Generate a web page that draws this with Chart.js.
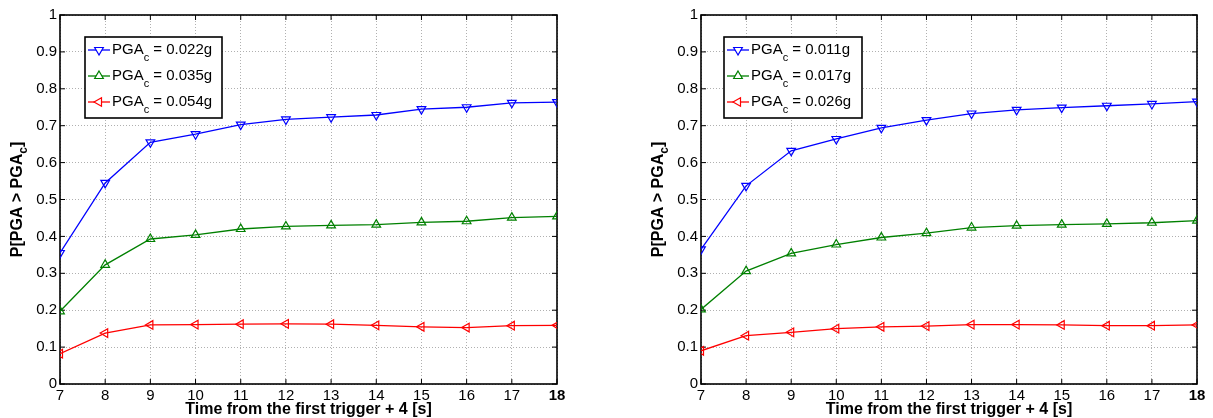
<!DOCTYPE html>
<html>
<head>
<meta charset="utf-8">
<script src="https://cdn.jsdelivr.net/npm/chart.js@4/dist/chart.umd.min.js"></script>
<style>
body { margin: 0; background: #fff; width: 1213px; height: 418px; overflow: hidden; position: relative; }
.panel { position: absolute; top: 0; height: 418px; }
</style>
</head>
<body>
<div class="panel" style="left:0;width:606px"><canvas id="leftChart"></canvas></div>
<div class="panel" style="left:606px;width:607px"><canvas id="rightChart"></canvas></div>
<script>
// x values (time) and y tick labels
const times = [7, 8, 9, 10, 11, 12, 13, 14, 15, 16, 17, 18];
const yTicks = [0, 0.1, 0.2, 0.3, 0.4, 0.5, 0.6, 0.7, 0.8, 0.9, 1];

// left panel
const leftNames = ["0.022g", "0.035g", "0.054g"];
const leftBlue  = [0.355, 0.545, 0.655, 0.677, 0.703, 0.717, 0.723, 0.729, 0.745, 0.750, 0.762, 0.764];
const leftGreen = [0.197, 0.323, 0.393, 0.404, 0.420, 0.427, 0.430, 0.432, 0.438, 0.441, 0.451, 0.454];
const leftRed   = [0.082, 0.138, 0.160, 0.161, 0.162, 0.163, 0.162, 0.159, 0.155, 0.153, 0.158, 0.159];

// right panel
const rightNames = ["0.011g", "0.017g", "0.026g"];
const rightBlue  = [0.365, 0.537, 0.632, 0.664, 0.694, 0.715, 0.733, 0.743, 0.749, 0.754, 0.759, 0.765];
const rightGreen = [0.202, 0.306, 0.354, 0.378, 0.397, 0.409, 0.424, 0.429, 0.432, 0.434, 0.437, 0.443];
const rightRed   = [0.090, 0.131, 0.140, 0.150, 0.155, 0.157, 0.161, 0.161, 0.160, 0.158, 0.158, 0.160];

const FONT = "'Liberation Sans', Arial, Helvetica, sans-serif";
const colors = ["#0000ff", "#008000", "#ff0000"];
const rotations = [180, 0, 270];

function series(vals, i, name) {
  return {
    label: name,
    data: vals.map((v, k) => ({ x: times[k], y: v })),
    borderColor: colors[i],
    backgroundColor: "rgba(0,0,0,0)",
    borderWidth: 1.3,
    pointStyle: "triangle",
    pointRotation: rotations[i],
    pointRadius: 5,
    pointBorderWidth: 1.2,
    tension: 0
  };
}

// box, inward ticks, legend with subscripts, y title
const decor = {
  id: "decor",
  beforeDatasetsDraw(chart) {
    const { ctx, chartArea: a, scales: { x, y } } = chart;
    ctx.save();
    ctx.strokeStyle = "#000";
    ctx.lineWidth = 1;
    ctx.beginPath();
    times.forEach(t => {
      const px = x.getPixelForValue(t);
      ctx.moveTo(px, a.bottom); ctx.lineTo(px, a.bottom - 5);
      ctx.moveTo(px, a.top); ctx.lineTo(px, a.top + 5);
    });
    yTicks.forEach(v => {
      const py = y.getPixelForValue(v);
      ctx.moveTo(a.left, py); ctx.lineTo(a.left + 5, py);
      ctx.moveTo(a.right, py); ctx.lineTo(a.right - 5, py);
    });
    ctx.stroke();
    ctx.lineWidth = 1.6;
    ctx.strokeRect(a.left, a.top, a.right - a.left, a.bottom - a.top);
    ctx.restore();
  },
  afterDraw(chart, args, opts) {
    const { ctx, chartArea: a } = chart;
    ctx.save();
    // legend
    const bx = a.left + opts.legendDx, by = a.top + 22, bw = opts.legendW, bh = 81;
    ctx.fillStyle = "#fff";
    ctx.fillRect(bx, by, bw, bh);
    ctx.strokeStyle = "#000";
    ctx.lineWidth = 1.6;
    ctx.strokeRect(bx, by, bw, bh);
    chart.data.datasets.forEach((ds, i) => {
      const cy = by + 13 + i * 26;
      ctx.strokeStyle = ds.borderColor;
      ctx.lineWidth = 1.3;
      ctx.beginPath();
      ctx.moveTo(bx + 3, cy); ctx.lineTo(bx + 25, cy);
      ctx.stroke();
      ctx.fillStyle = "#fff";
      ctx.lineWidth = 1.2;
      Chart.helpers.drawPoint(ctx, { pointStyle: "triangle", rotation: ds.pointRotation, radius: 5, borderWidth: 1.2 }, bx + 14, cy);
      ctx.fillStyle = "#000";
      ctx.textBaseline = "middle";
      ctx.textAlign = "left";
      let tx = bx + 27;
      ctx.font = "15px " + FONT;
      ctx.fillText("PGA", tx, cy);
      tx += ctx.measureText("PGA").width;
      ctx.font = "11px " + FONT;
      ctx.fillText("c", tx, cy + 8);
      tx += ctx.measureText("c").width;
      ctx.font = "15px " + FONT;
      ctx.fillText(" = " + ds.label, tx, cy);
    });
    // y title
    ctx.translate(opts.titleX, (a.top + a.bottom) / 2);
    ctx.rotate(-Math.PI / 2);
    ctx.fillStyle = "#000";
    ctx.textBaseline = "middle";
    ctx.textAlign = "left";
    const big = "bold 16px " + FONT, small = "bold 12px " + FONT;
    ctx.font = big; const w1 = ctx.measureText("P[PGA > PGA").width, w3 = ctx.measureText("]").width;
    ctx.font = small; const w2 = ctx.measureText("c").width;
    let sx = -(w1 + w2 + w3) / 2;
    ctx.font = big; ctx.fillText("P[PGA > PGA", sx, 0); sx += w1;
    ctx.font = small; ctx.fillText("c", sx, 6); sx += w2;
    ctx.font = big; ctx.fillText("]", sx, 0);
    ctx.restore();
  }
};

function makeChart(id, names, vals, yWidth, rightPad, legendDx, legendW, titleX) {
  new Chart(document.getElementById(id), {
    type: "line",
    data: { datasets: vals.map((v, i) => series(v, i, names[i])) },
    plugins: [decor],
    options: {
      responsive: true,
      maintainAspectRatio: false,
      animation: false,
      layout: { padding: { left: 0, right: rightPad, top: 15, bottom: 0 } },
      plugins: {
        legend: { display: false },
        tooltip: { enabled: false },
        decor: { legendDx: legendDx, legendW: legendW, titleX: titleX }
      },
      scales: {
        x: {
          type: "linear",
          min: 7, max: 18,
          afterBuildTicks: s => { s.ticks = times.map(v => ({ value: v })); },
          afterFit: s => { s.height = 34; },
          grid: { color: "#b0b0b0", lineWidth: 1, drawTicks: false },
          border: { display: false, dash: [1, 2] },
          ticks: {
            padding: 3,
            color: "#000",
            maxRotation: 0,
            font: c => ({ family: FONT, size: 15, weight: c.index === times.length - 1 ? "bold" : "normal" })
          },
          title: {
            display: true,
            text: "Time from the first trigger + 4 [s]",
            color: "#000",
            padding: { top: 0, bottom: 0 },
            font: { family: FONT, size: 16, weight: "bold", lineHeight: 1.0 }
          }
        },
        y: {
          type: "linear",
          min: 0, max: 1,
          afterBuildTicks: s => { s.ticks = yTicks.map(v => ({ value: v })); },
          afterFit: s => { s.width = yWidth; },
          grid: { color: "#b0b0b0", lineWidth: 1, drawTicks: false },
          border: { display: false, dash: [1, 2] },
          ticks: {
            padding: 3,
            color: "#000",
            font: { family: FONT, size: 15 },
            callback: v => String(Math.round(v * 10) / 10)
          }
        }
      }
    }
  });
}

makeChart("leftChart", leftNames, [leftBlue, leftGreen, leftRed], 60, 49, 25, 137, 18);
makeChart("rightChart", rightNames, [rightBlue, rightGreen, rightRed], 95, 16, 23, 138, 53);
</script>
</body>
</html>
